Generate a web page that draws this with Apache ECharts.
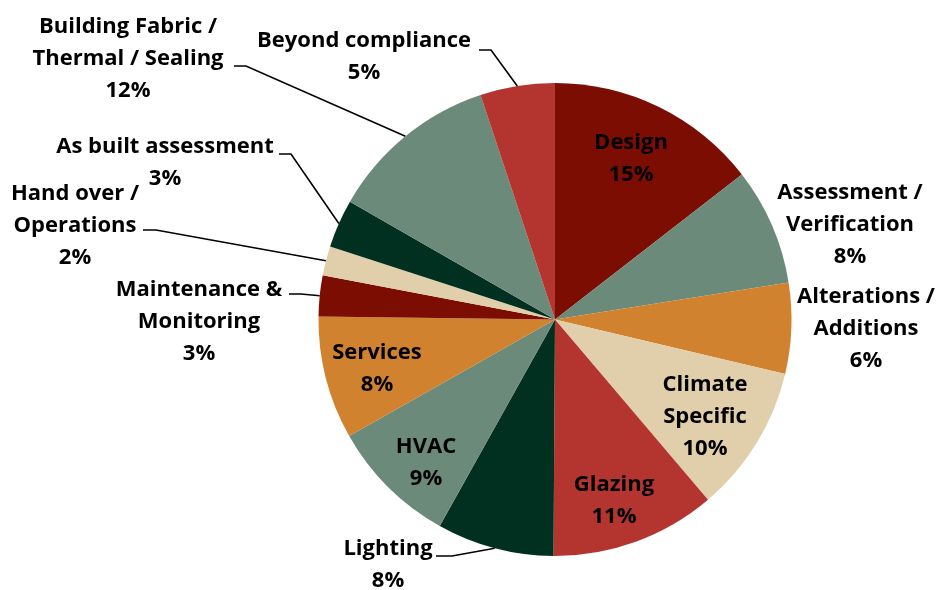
<!DOCTYPE html>
<html>
<head>
<meta charset="utf-8">
<script src="https://cdn.jsdelivr.net/npm/echarts@6/dist/echarts.min.js"></script>
<style>
    html, body { margin: 0; padding: 0; background: #fff; }
    #chart { width: 936px; height: 590px; }
</style>
</head>
<body>
<div id="chart"></div>
<script>
// slices, clockwise from 12 o'clock
var categories = [
    'Design',
    'Assessment /\nVerification',
    'Alterations /\nAdditions',
    'Climate\nSpecific',
    'Glazing',
    'Lighting',
    'HVAC',
    'Services',
    'Maintenance &\nMonitoring',
    'Hand over /\nOperations',
    'As built assessment',
    'Building Fabric /\nThermal / Sealing',
    'Beyond compliance'
];
var shares = [14.5, 8.0, 6.2, 10.1, 11.3, 8.0, 8.7, 8.4, 2.8, 2.0, 3.3, 11.6, 5.1];
var colors = ['#7c0d02', '#6b8a7a', '#d0822f', '#e0cfaa', '#b43530', '#023020', '#6b8a7a',
              '#d0822f', '#7c0d02', '#e0cfaa', '#023020', '#6b8a7a', '#b43530'];
var insideLabels = ['Design', 'Climate\nSpecific', 'Glazing', 'HVAC', 'Services'];
var noLineLabels = ['Assessment /\nVerification', 'Alterations /\nAdditions'];

// layout of the labels (block centre) and start of their leader lines
var cx = 555, cy = 319.5, r = 236.5;
var labelPos = [
    [631, 159], [850, 225], [866, 329], [705, 417], [614, 501], [388, 565], [426, 463],
    [377, 369], [199, 322], [75, 226], [165, 163], [128, 59], [364, 57]
];
var lineStart = {
    5: [[436, 556], [452, 556]],
    8: [[289, 294], [301, 294]],
    9: [[143, 230], [156, 230]],
    10: [[279, 154], [291, 154]],
    11: [[234, 66], [246, 66]],
    12: [[479, 50], [491, 50]]
};

var total = shares.reduce(function(a, b) { return a + b; }, 0);
function edgePoint(idx) {
    var before = 0;
    for (var i = 0; i < idx; i++) before += shares[i];
    var a = (before + shares[idx] / 2) / total * 2 * Math.PI;
    return [cx + r * Math.sin(a), cy - r * Math.cos(a)];
}

var data = categories.map(function(name, i) {
    var item = { name: name, value: shares[i], itemStyle: { color: colors[i] } };
    if (insideLabels.indexOf(name) >= 0) {
        item.label = { position: 'inside' };
        item.labelLine = { show: false };
    } else if (noLineLabels.indexOf(name) >= 0) {
        item.labelLine = { show: false };
    }
    return item;
});

var myChart = echarts.init(document.getElementById('chart'));

var option = {
    backgroundColor: '#fff',
    animation: false,
    series: [
        {
            type: 'pie',
            center: [cx, cy],
            radius: r,
            startAngle: 90,
            clockwise: true,
            avoidLabelOverlap: false,
            emphasis: { disabled: true },
            label: {
                show: true,
                position: 'outside',
                overflow: 'none',
                fontFamily: 'Open Sans',
                fontWeight: 'bold',
                fontSize: 22,
                lineHeight: 32,
                color: '#000',
                formatter: function(p) {
                    return p.name + '\n' + Math.round(p.value) + '%';
                }
            },
            labelLine: {
                show: true,
                lineStyle: { color: '#000', width: 1.6 }
            },
            labelLayout: function(params) {
                var i = params.dataIndex;
                var out = {
                    x: labelPos[i][0],
                    y: labelPos[i][1],
                    align: 'center',
                    verticalAlign: 'middle'
                };
                if (lineStart[i]) {
                    out.labelLinePoints = [lineStart[i][0], lineStart[i][1], edgePoint(i)];
                }
                return out;
            },
            data: data
        }
    ]
};

myChart.setOption(option);
</script>
</body>
</html>
